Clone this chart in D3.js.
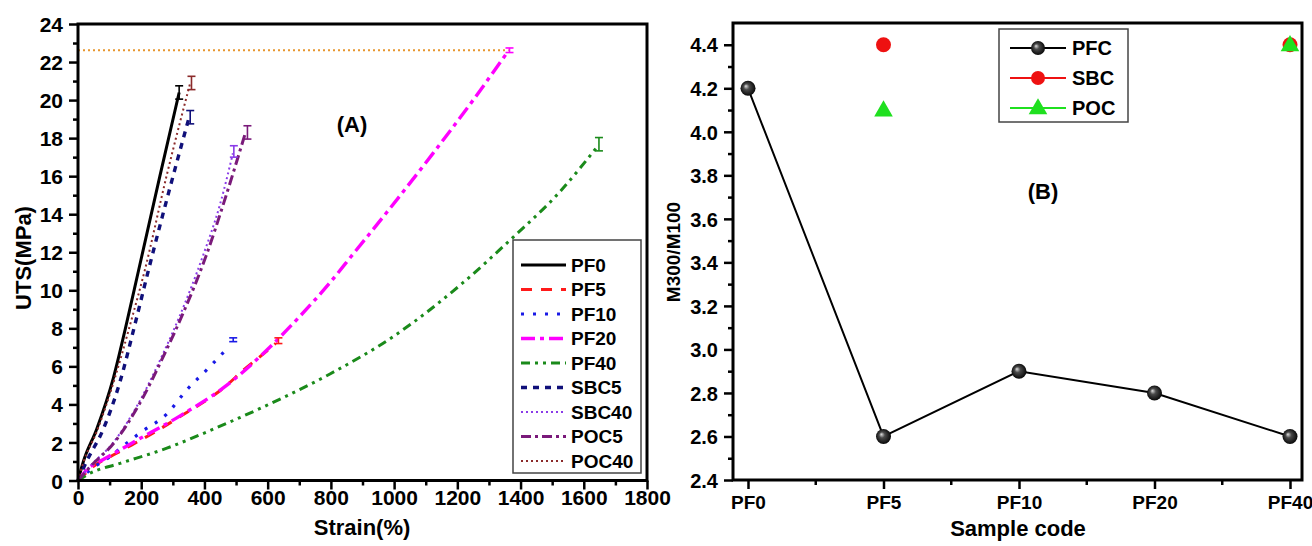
<!DOCTYPE html>
<html><head><meta charset="utf-8">
<script src="https://cdn.jsdelivr.net/npm/d3@7"></script>
<style>
body{margin:0;background:#fff}
svg{display:block}
text{font-family:"Liberation Sans",Arial,sans-serif;font-weight:bold;fill:#000}
</style>
</head><body>
<svg id="c" width="1312" height="546"></svg>
<script>
// ---------------- DATA: panel (A) stress–strain curves [strain %, UTS MPa] ----------------
const seriesNames = ["PF0","PF5","PF10","PF20","PF40","SBC5","SBC40","POC5","POC40"];
const PF0   = [[0,0],[17,1.0],[59,2.7],[112,5.4],[150,8.0],[191,11.0],[259,16.0],[320,20.4]];
const PF5   = [[0,0],[48,0.73],[122,1.43],[238,2.5],[323,3.36],[470,5.0],[523,5.8],[597,6.8],[625,7.2]];
const PF10  = [[0,0],[38,0.55],[101,1.25],[154,1.96],[196,2.5],[281,3.5],[344,4.76],[418,6.0],[478,7.05]];
const PF20  = [[0,0],[30,0.6],[80,1.1],[174,2.0],[323,3.4],[470,5.0],[600,6.9],[700,8.6],[797,10.4],[870,11.9],[977,14.1],[1123,17.2],[1250,20.0],[1362,22.6]];
const PF40  = [[0,0],[38,0.38],[133,0.9],[281,1.7],[428,2.7],[597,3.95],[797,5.6],[1000,7.6],[1218,10.4],[1377,12.8],[1520,15.1],[1645,17.6]];
const SBC5  = [[0,0],[27,1.0],[80,2.7],[133,5.2],[180,8.2],[222,11.0],[291,15.4],[350,19.0]];
const SBC40 = [[0,0],[38,0.75],[112,2.0],[186,3.9],[270,6.7],[323,8.7],[395,11.8],[449,14.5],[490,17.2]];
const POC5  = [[0,0],[40,0.75],[115,2.0],[190,3.9],[275,6.7],[330,8.7],[405,11.8],[465,14.8],[530,18.3]];
const POC40 = [[0,0],[17,0.95],[60,2.6],[115,5.3],[165,8.2],[212,11.1],[280,16.0],[355,20.9]];
const seriesData = [PF0,PF5,PF10,PF20,PF40,SBC5,SBC40,POC5,POC40];

// end-point error bars
const errStrain = [320, 634, 491, 1365, 1648, 355, 493, 536, 359];
const errUTS    = [20.4, 7.35, 7.4, 22.62, 17.68, 19.1, 17.3, 18.3, 20.9];
const errSize   = [0.35, 0.15, 0.1, 0.12, 0.35, 0.35, 0.3, 0.35, 0.35];

// horizontal reference dotted line
const refStrain = [0, 1362];
const refUTS = [22.62, 22.62];

const strainTicks = [0,200,400,600,800,1000,1200,1400,1600,1800];
const utsTicks = [0,2,4,6,8,10,12,14,16,18,20,22,24];

// ---------------- DATA: panel (B) ----------------
const sampleCodes = ["PF0","PF5","PF10","PF20","PF40"];
const pfcRatio = [4.2, 2.6, 2.9, 2.8, 2.6];
const sbcCodes = ["PF5","PF40"];
const sbcRatio = [4.4, 4.4];
const pocCodes = ["PF5","PF40"];
const pocRatio = [4.1, 4.4];
const ratioTicks = [2.4,2.6,2.8,3.0,3.2,3.4,3.6,3.8,4.0,4.2,4.4];
const ratioMinor = [2.5,2.7,2.9,3.1,3.3,3.5,3.7,3.9,4.1,4.3];

// ---------------- STYLES ----------------
const styles = {
  PF0:  {c:"#000000", w:3,   d:null},
  PF5:  {c:"#ff1a1a", w:3,   d:"11,9"},
  PF10: {c:"#1a1ae6", w:3.2, d:"3,9"},
  PF20: {c:"#ff00ff", w:3.4, d:"14,5,4,5"},
  PF40: {c:"#1a8a1a", w:3,   d:"9,5,3,5,3,5"},
  SBC5: {c:"#10107a", w:3.4, d:"6,6"},
  SBC40:{c:"#8a3be8", w:2,   d:"2,3"},
  POC5: {c:"#7a1a7a", w:3,   d:"10,4,3,4"},
  POC40:{c:"#8b2a2a", w:2,   d:"2,3"}
};

const svg = d3.select("#c");
const defs = svg.append("defs");
const grad = defs.append("radialGradient").attr("id","sph")
  .attr("cx","50%").attr("cy","50%").attr("r","55%").attr("fx","35%").attr("fy","35%");
grad.append("stop").attr("offset","0%").attr("stop-color","#e0e0e0");
grad.append("stop").attr("offset","35%").attr("stop-color","#4a4a4a");
grad.append("stop").attr("offset","100%").attr("stop-color","#000");

function styleAxis(g, fs){
  g.select(".domain").remove();
  g.selectAll(".tick line").attr("stroke","#000").attr("stroke-width",2.5);
  g.selectAll(".tick text").style("font-size",fs+"px").attr("fill","#000");
}

// ================= PANEL A =================
const xA = d3.scaleLinear().domain([0,1800]).range([78,647]);
const yA = d3.scaleLinear().domain([0,24]).range([480.5,24]);

const gxA = svg.append("g").attr("transform",`translate(0,${yA(0)})`)
  .call(d3.axisBottom(xA).tickValues(strainTicks).tickSize(9).tickFormat(d3.format("d")));
styleAxis(gxA,21);
gxA.selectAll(".tick text").attr("y",24).attr("dy",0);
const gxAm = svg.append("g").attr("transform",`translate(0,${yA(0)})`)
  .call(d3.axisBottom(xA).tickValues(d3.range(100,1800,200)).tickSize(5).tickFormat(""));
styleAxis(gxAm,21);

const gyA = svg.append("g").attr("transform",`translate(${xA(0)},0)`)
  .call(d3.axisLeft(yA).tickValues(utsTicks).tickSize(9).tickFormat(d3.format("d")));
styleAxis(gyA,21);
gyA.selectAll(".tick text").attr("x",-15).attr("dy","0.36em");
const gyAm = svg.append("g").attr("transform",`translate(${xA(0)},0)`)
  .call(d3.axisLeft(yA).tickValues(d3.range(1,24,2)).tickSize(5).tickFormat(""));
styleAxis(gyAm,21);

// reference dotted line
svg.append("path")
  .attr("d", d3.line().x((d,i)=>xA(d)).y((d,i)=>yA(refUTS[i]))(refStrain))
  .attr("fill","none").attr("stroke","#e8962e").attr("stroke-width",2.2).attr("stroke-dasharray","2,3");

const lineA = d3.line().x(d=>xA(d[0])).y(d=>yA(d[1])).curve(d3.curveMonotoneX);
seriesNames.forEach((n,i)=>{
  const s = styles[n];
  svg.append("path").attr("d",lineA(seriesData[i]))
    .attr("fill","none").attr("stroke",s.c).attr("stroke-width",s.w)
    .attr("stroke-dasharray",s.d);
});
// error bars
seriesNames.forEach((n,i)=>{
  const s = styles[n];
  const x = xA(errStrain[i]), y1 = yA(errUTS[i]-errSize[i]), y2 = yA(errUTS[i]+errSize[i]);
  const g = svg.append("g").attr("stroke",s.c).attr("stroke-width",1.6);
  g.append("line").attr("x1",x).attr("x2",x).attr("y1",y1).attr("y2",y2);
  g.append("line").attr("x1",x-4).attr("x2",x+4).attr("y1",y1).attr("y2",y1);
  g.append("line").attr("x1",x-4).attr("x2",x+4).attr("y1",y2).attr("y2",y2);
});

// frame
svg.append("rect").attr("x",xA(0)).attr("y",yA(24)).attr("width",xA(1800)-xA(0)).attr("height",yA(0)-yA(24))
  .attr("fill","none").attr("stroke","#000").attr("stroke-width",3);

// legend A
svg.append("rect").attr("x",513).attr("y",240).attr("width",128).attr("height",233)
  .attr("fill","#fff").attr("stroke","#444").attr("stroke-width",1.5);
seriesNames.forEach((n,i)=>{
  const s = styles[n];
  const y = 265 + i*24.5;
  svg.append("line").attr("x1",521).attr("x2",566).attr("y1",y).attr("y2",y)
    .attr("stroke",s.c).attr("stroke-width",s.w).attr("stroke-dasharray",s.d);
  svg.append("text").attr("x",571).attr("y",y).attr("dy","0.36em").style("font-size","19px").text(n);
});

svg.append("text").attr("x",352).attr("y",132).attr("text-anchor","middle").style("font-size","22px").text("(A)");
svg.append("text").attr("x",362).attr("y",535).attr("text-anchor","middle").style("font-size","22px").text("Strain(%)");
svg.append("text").attr("transform","translate(31,258) rotate(-90)").attr("text-anchor","middle").style("font-size","22px").text("UTS(MPa)");

// ================= PANEL B =================
const xB = d3.scalePoint().domain(sampleCodes).range([748,1290]);
const yB = d3.scaleLinear().domain([2.4,4.5]).range([480,23]);
const bL = 733, bR = 1302;

const gxB = svg.append("g").attr("transform",`translate(0,${yB(2.4)})`)
  .call(d3.axisBottom(xB).tickSize(9));
styleAxis(gxB,19);
gxB.selectAll(".tick text").attr("y",29).attr("dy",0);
const minorX = sampleCodes.slice(1).map((c,i)=>(xB(sampleCodes[i])+xB(c))/2);
svg.append("g").selectAll("line").data(minorX).join("line")
  .attr("x1",d=>d).attr("x2",d=>d).attr("y1",yB(2.4)).attr("y2",yB(2.4)+5)
  .attr("stroke","#000").attr("stroke-width",2.5);

const gyB = svg.append("g").attr("transform",`translate(${bL},0)`)
  .call(d3.axisLeft(yB).tickValues(ratioTicks).tickSize(9).tickFormat(d3.format(".1f")));
styleAxis(gyB,20);
gyB.selectAll(".tick text").attr("x",-15).attr("dy","0.36em");
const gyBm = svg.append("g").attr("transform",`translate(${bL},0)`)
  .call(d3.axisLeft(yB).tickValues(ratioMinor).tickSize(5).tickFormat(""));
styleAxis(gyBm,20);

// PFC line + spheres
svg.append("path").attr("d", d3.line().x((d,i)=>xB(sampleCodes[i])).y(d=>yB(d))(pfcRatio))
  .attr("fill","none").attr("stroke","#000").attr("stroke-width",2);
svg.append("g").selectAll("circle").data(pfcRatio).join("circle")
  .attr("cx",(d,i)=>xB(sampleCodes[i])).attr("cy",d=>yB(d)).attr("r",7.5)
  .attr("fill","url(#sph)");
// SBC circles
svg.append("g").selectAll("circle").data(sbcRatio).join("circle")
  .attr("cx",(d,i)=>xB(sbcCodes[i])).attr("cy",d=>yB(d)).attr("r",7.5).attr("fill","#ee1111");
// POC triangles
const tri = d3.symbol().type(d3.symbolTriangle).size(150);
svg.append("g").selectAll("path").data(pocRatio).join("path")
  .attr("d",tri).attr("transform",(d,i)=>`translate(${xB(pocCodes[i])},${yB(d)+1})`).attr("fill","#1fe01f");

// frame B
svg.append("rect").attr("x",bL).attr("y",yB(4.5)).attr("width",bR-bL).attr("height",yB(2.4)-yB(4.5))
  .attr("fill","none").attr("stroke","#000").attr("stroke-width",3);

// legend B
svg.append("rect").attr("x",999).attr("y",29).attr("width",129).attr("height",93)
  .attr("fill","#fff").attr("stroke","#444").attr("stroke-width",1.5);
const legB = [{n:"PFC",c:"#000"},{n:"SBC",c:"#ee1111"},{n:"POC",c:"#1fe01f"}];
legB.forEach((e,i)=>{
  const y = 48 + i*30;
  svg.append("line").attr("x1",1010).attr("x2",1066).attr("y1",y).attr("y2",y).attr("stroke",e.c).attr("stroke-width",2);
  if(i===0) svg.append("circle").attr("cx",1038).attr("cy",y).attr("r",7).attr("fill","url(#sph)");
  if(i===1) svg.append("circle").attr("cx",1038).attr("cy",y).attr("r",7).attr("fill",e.c);
  if(i===2) svg.append("path").attr("d",tri).attr("transform",`translate(1038,${y+1})`).attr("fill",e.c);
  svg.append("text").attr("x",1072).attr("y",y).attr("dy","0.36em").style("font-size","20px").text(e.n);
});

svg.append("text").attr("x",1043).attr("y",199).attr("text-anchor","middle").style("font-size","22px").text("(B)");
svg.append("text").attr("x",1018).attr("y",536).attr("text-anchor","middle").style("font-size","22px").text("Sample code");
svg.append("text").attr("transform","translate(680,252) rotate(-90)").attr("text-anchor","middle").style("font-size","19px").text("M300/M100");
</script>
</body></html>
